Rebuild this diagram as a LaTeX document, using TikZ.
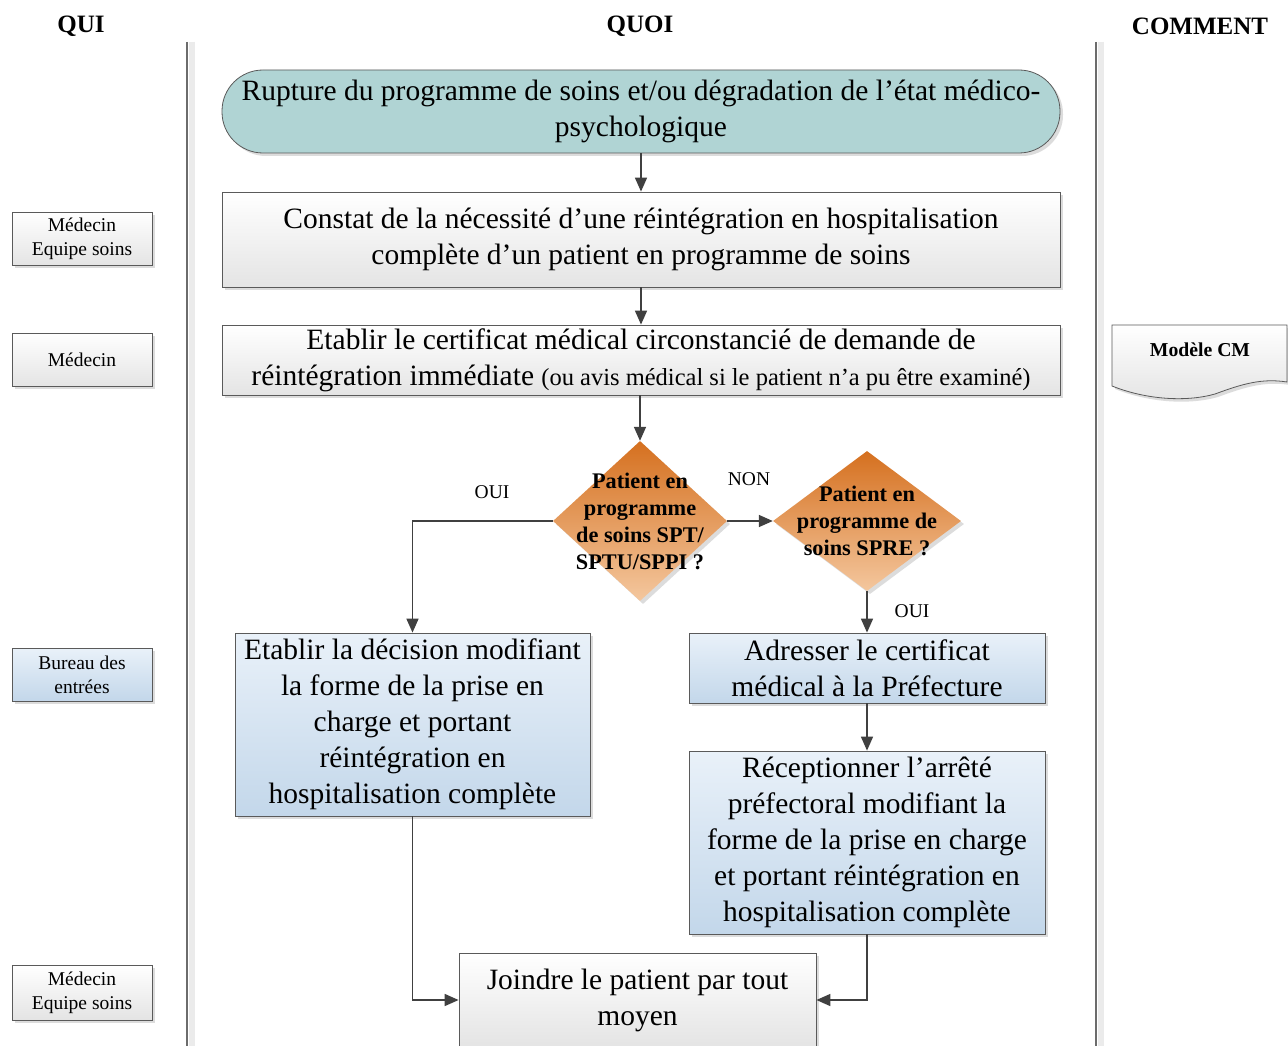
\documentclass[tikz,border=0pt]{standalone}
\usepackage{fontspec}
\setmainfont{Liberation Serif}
\usetikzlibrary{shapes.geometric,arrows.meta,shadows,calc}
\definecolor{lineC}{HTML}{404040}
\definecolor{borderC}{HTML}{5A5A5A}
\definecolor{tealC}{HTML}{B0D4D4}
\definecolor{orTop}{HTML}{D5701F}
\definecolor{orBot}{HTML}{F4C79E}
\definecolor{blTop}{HTML}{E9F1F9}
\definecolor{blBot}{HTML}{C3D7EA}
\definecolor{grBot}{HTML}{E4E4E4}
\tikzset{
  shd/.style={drop shadow={shadow xshift=3pt,shadow yshift=-3pt,fill=black!30,opacity=0.45}},
  graybox/.style={draw=borderC,line width=0.8pt,rectangle,inner sep=0pt,align=center,
    top color=white,bottom color=grBot,shd},
  bluebox/.style={draw=borderC,line width=0.8pt,rectangle,inner sep=0pt,align=center,
    top color=blTop,bottom color=blBot,shd},
  bigtxt/.style={font=\fontsize{29.5}{36}\selectfont},
  smalltxt/.style={font=\fontsize{19.5}{24}\selectfont},
  dia/.style={draw=none,diamond,inner sep=0pt,top color=orTop,bottom color=orBot,shd},
  diatxt/.style={align=center,inner sep=0pt,font=\bfseries\fontsize{22.3}{27}\selectfont},
  arr/.style={draw=lineC,line width=1.6pt,-{Triangle[length=14pt,width=12pt]}},
  lbl/.style={inner sep=0pt,font=\fontsize{19.5}{22}\selectfont},
  hdr/.style={inner sep=0pt,font=\bfseries\fontsize{25}{28}\selectfont},
  lane/.style={draw=gray!85!black,line width=1.6pt},
  laneshd/.style={draw=black!8,line width=6pt},
}
\begin{document}
\begin{tikzpicture}[x=1pt,y=-1pt]
\useasboundingbox (0,0) rectangle (1288,1046);
\fill[white] (0,0) rectangle (1288,1046);

% lanes
\draw[laneshd] (192,42) -- (192,1046);
\draw[lane] (187,42) -- (187,1046);
\draw[laneshd] (1101,42) -- (1101,1046);
\draw[lane] (1096,42) -- (1096,1046);

% headers
\node[hdr] (hqui) at (81,26) {QUI};
\node[hdr] (hquoi) at (640,26) {QUOI};
\node[hdr] (hcomment) at (1200,26) {COMMENT};

% left role boxes
\node[graybox,smalltxt,minimum width=140,minimum height=53] (r1) at (82,238.5) {Médecin\\Equipe soins};
\node[graybox,smalltxt,minimum width=140,minimum height=53] (r2) at (82,359.5) {Médecin};
\node[bluebox,smalltxt,minimum width=140,minimum height=53] (r3) at (82,674.5) {Bureau des\\entrées};
\node[graybox,smalltxt,minimum width=140,minimum height=55] (r4) at (82,992.5) {Médecin\\Equipe soins};

% start terminator
\node[draw=borderC,line width=0.8pt,rectangle,rounded corners=41pt,inner sep=0pt,align=center,
  fill=tealC,shd,bigtxt,minimum width=838,minimum height=83] (s) at (641,111.5)
  {Rupture du programme de soins et/ou dégradation de l’état médico-\\psychologique};

\node[graybox,bigtxt,minimum width=838,minimum height=95] (b2) at (641,239.5)
  {Constat de la nécessité d’une réintégration en hospitalisation\\complète d’un patient en programme de soins};

\node[graybox,bigtxt,minimum width=838,minimum height=70] (b3) at (641,360)
  {Etablir le certificat médical circonstancié de demande de\\réintégration immédiate {\fontsize{24.5}{36}\selectfont (ou avis médical si le patient n’a pu être examiné)}};

% diamonds
\node[dia,minimum width=174,minimum height=160] (d1) at (640,521) {};
\node[diatxt] (d1t) at (640,521) {Patient en\\programme\\de soins SPT/\\SPTU/SPPI ?};
\node[dia,minimum width=188,minimum height=140] (d2) at (867,521) {};
\node[diatxt] (d2t) at (867,521) {Patient en\\programme de\\soins SPRE ?};

% action boxes
\node[bluebox,bigtxt,minimum width=355,minimum height=183] (b4) at (412.5,724.5)
  {Etablir la décision modifiant\\la forme de la prise en\\charge et portant\\réintégration en\\hospitalisation complète};
\node[bluebox,bigtxt,minimum width=356,minimum height=70] (b5) at (867,668)
  {Adresser le certificat\\médical à la Préfecture};
\node[bluebox,bigtxt,minimum width=356,minimum height=183] (b6) at (867,842.5)
  {Réceptionner l’arrêté\\préfectoral modifiant la\\forme de la prise en charge\\et portant réintégration en\\hospitalisation complète};
\node[graybox,bigtxt,minimum width=357,minimum height=94] (j) at (637.5,1000)
  {Joindre le patient par tout\\moyen};

% comment document
\coordinate (docA) at (1112,325);
\coordinate (docB) at (1287,325);
\coordinate (docC) at (1287,382);
\coordinate (docD) at (1112,386);
\fill[black!30,opacity=0.45] ($(docA)+(3,3)$) -- ($(docB)+(3,3)$) -- ($(docC)+(3,3)$)
  .. controls (1265,381) and (1245,387) .. (1218,397)
  .. controls (1190,405) and (1150,403) .. ($(docD)+(3,3)$) -- cycle;
\draw[draw=borderC,line width=0.8pt,top color=white,bottom color=grBot] (docA) -- (docB) -- (docC)
  .. controls (1262,378) and (1242,384) .. (1215,394)
  .. controls (1187,402) and (1147,400) .. (docD) -- cycle;
\node[inner sep=0pt,font=\bfseries\fontsize{19.7}{22}\selectfont] (doc) at (1200,350) {Modèle CM};

% connectors
\draw[arr] (s.south) -- (b2.north);
\draw[arr] (b2.south) -- (b3.north);
\draw[arr] (b3.south -| d1.north) -- (d1.north);
\draw[arr] (d1.west) -| (b4.north);
\draw[arr] (d1.east) -- (d2.west);
\draw[arr] (d2.south) -- (b5.north);
\draw[arr] (b5.south) -- (b6.north);
\draw[arr] (b4.south) |- (j.west);
\draw[arr] (b6.south) |- (j.east);

% labels
\node[lbl] (loui1) at (492,492) {OUI};
\node[lbl] (lnon) at (749,479) {NON};
\node[lbl] (loui2) at (912,611) {OUI};
\end{tikzpicture}
\end{document}
